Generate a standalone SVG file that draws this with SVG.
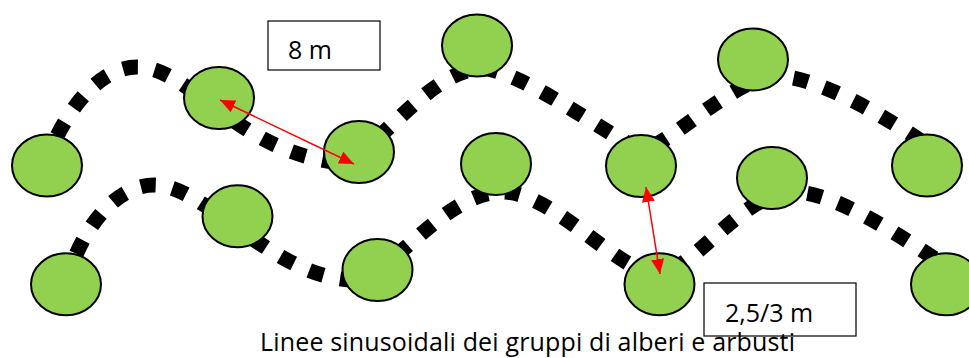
<svg xmlns="http://www.w3.org/2000/svg" width="969" height="358" viewBox="0 0 969 358">
<style>
.wave{fill:none;stroke:#000;stroke-width:15;stroke-dasharray:15 17}
.tree{fill:#92D050;stroke:#000;stroke-width:2}
.box{fill:#fff;stroke:#000;stroke-width:1.2}
.lbl{font-family:"Open Sans","Liberation Sans",sans-serif;font-size:25px;fill:#000}
.dim{stroke:#f00;stroke-width:1.5;fill:none}
</style>
<defs>
<marker id="ah" markerUnits="userSpaceOnUse" markerWidth="16" markerHeight="14" refX="15" refY="6.5" orient="auto-start-reverse">
<path d="M0,0 L15,6.5 L0,13 z" fill="#f00"/>
</marker>
</defs>
<g id="connectors">
<path class="wave" d="M45,165 C60,120 95,67 137,67 C190,67 235,150 335,162 C370,165 420,75 480,68 C520,70 600,130 640,150 C665,150 730,80 775,76 C820,76 890,120 935,150"/>
<path class="wave" d="M66,284 C80,230 115,185 154,185 C205,185 270,275 350,280 C390,280 440,195 500,192 C550,190 610,265 655,275 C690,275 740,195 790,192 C840,190 920,250 975,285"/>
</g>
<g id="tree1"><ellipse class="tree" cx="47" cy="165.5" rx="35" ry="31"/></g>
<g id="tree2"><ellipse class="tree" cx="219" cy="98" rx="35" ry="31"/></g>
<g id="tree3"><ellipse class="tree" cx="359" cy="152" rx="35" ry="31"/></g>
<g id="tree4"><ellipse class="tree" cx="477" cy="45.5" rx="35" ry="31"/></g>
<g id="tree5"><ellipse class="tree" cx="641" cy="166" rx="35" ry="31"/></g>
<g id="tree6"><ellipse class="tree" cx="753" cy="59.5" rx="35" ry="31"/></g>
<g id="tree7"><ellipse class="tree" cx="927" cy="165.5" rx="35" ry="31"/></g>
<g id="tree8"><ellipse class="tree" cx="66" cy="284.3" rx="35" ry="31"/></g>
<g id="tree9"><ellipse class="tree" cx="237.5" cy="216.3" rx="35" ry="31"/></g>
<g id="tree10"><ellipse class="tree" cx="377.5" cy="270" rx="35" ry="31"/></g>
<g id="tree11"><ellipse class="tree" cx="496" cy="164" rx="35" ry="31"/></g>
<g id="tree12"><ellipse class="tree" cx="659.5" cy="284.3" rx="35" ry="31"/></g>
<g id="tree13"><ellipse class="tree" cx="772" cy="178" rx="35" ry="31"/></g>
<g id="tree14"><ellipse class="tree" cx="946" cy="284.3" rx="35" ry="31"/></g>
<g id="arrows">
<line class="dim" x1="220" y1="100" x2="354" y2="164" marker-start="url(#ah)" marker-end="url(#ah)"/>
<line class="dim" x1="646" y1="187" x2="660" y2="274" marker-start="url(#ah)" marker-end="url(#ah)"/>
</g>
<g id="label-8m">
<rect class="box" x="268" y="21" width="112" height="49"/>
<text class="lbl" x="288" y="59">8 m</text>
</g>
<g id="label-25m">
<rect class="box" x="704" y="283" width="152" height="53"/>
<text class="lbl" x="725" y="322">2,5/3 m</text>
</g>
<g id="caption">
<text class="lbl" x="260" y="351" textLength="535" lengthAdjust="spacing">Linee sinusoidali dei gruppi di alberi e arbusti</text>
</g>
</svg>
